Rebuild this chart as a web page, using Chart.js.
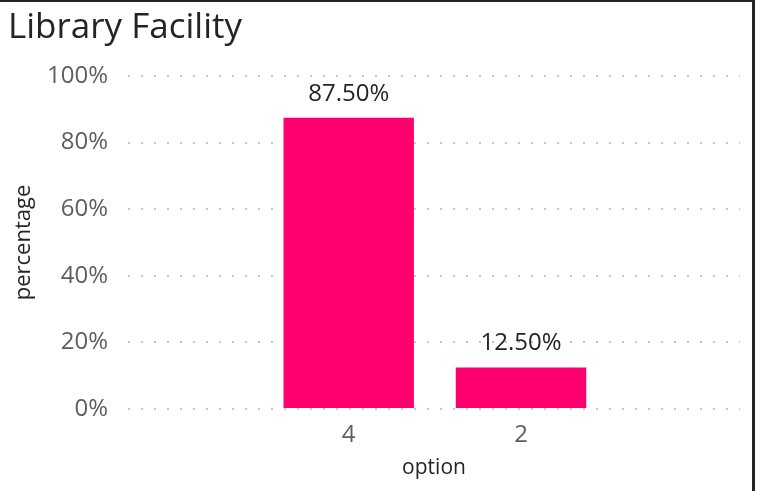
<!DOCTYPE html>
<html>
<head>
<meta charset="utf-8">
<script src="https://cdn.jsdelivr.net/npm/chart.js@4"></script>
<style>
  body { margin: 0; background: #fff; }
  .card { width: 752px; height: 489px; border-top: 2px solid #252423; border-right: 3px solid #252423; }
</style>
</head>
<body>
<div class="card"><canvas id="library-chart" width="752" height="489"></canvas></div>
<script>
const categories = ['4', '2'];
const percentages = [87.5, 12.5];
const yTicks = [0, 20, 40, 60, 80, 100];

const ctxEl = document.getElementById('library-chart');

// value labels above each bar
const barLabels = {
  id: 'barLabels',
  afterDatasetsDraw(chart) {
    const ctx = chart.ctx;
    const meta = chart.getDatasetMeta(0);
    ctx.save();
    ctx.font = '24px "Open Sans"';
    ctx.fillStyle = '#252423';
    ctx.textAlign = 'center';
    ctx.textBaseline = 'alphabetic';
    meta.data.forEach((bar, i) => {
      ctx.fillText(percentages[i].toFixed(2) + '%', bar.x, bar.y - 17);
    });
    ctx.restore();
  }
};

new Chart(ctxEl, {
  type: 'bar',
  data: {
    datasets: [{
      data: categories.map((c, i) => ({ x: i, y: percentages[i] })),
      backgroundColor: 'rgb(255, 0, 110)',
      categoryPercentage: 1,
      barPercentage: 0.757
    }]
  },
  options: {
    responsive: false,
    animation: false,
    layout: { padding: { left: 8, right: 12 } },
    plugins: {
      legend: { display: false },
      tooltip: { enabled: false },
      title: {
        display: true,
        text: 'Library Facility',
        align: 'start',
        color: '#252423',
        font: { family: 'Open Sans', size: 35, weight: 'normal' },
        padding: { top: 5, bottom: 27 }
      }
    },
    scales: {
      x: {
        type: 'linear',
        min: -1.281,
        max: 2.271,
        offset: false,
        afterBuildTicks: s => { s.ticks = categories.map((c, i) => ({ value: i })); },
        afterFit: s => { s.height = 82; },
        grid: { display: false, drawTicks: false },
        border: { display: false },
        ticks: {
          padding: 12,
          color: '#605E5C',
          font: { family: 'Open Sans', size: 24 },
          callback: v => categories[v]
        },
        title: {
          display: true,
          text: 'option',
          color: '#252423',
          font: { family: 'Open Sans', size: 21 },
          padding: { bottom: 10 }
        }
      },
      y: {
        min: yTicks[0],
        max: yTicks[yTicks.length - 1],
        afterBuildTicks: s => { s.ticks = yTicks.map(v => ({ value: v })); },
        afterFit: s => { s.width = 120; },
        grid: { color: '#c8c8c8', lineWidth: 2, drawTicks: false },
        border: { display: false, dash: [2, 11] },
        ticks: {
          padding: 20,
          color: '#605E5C',
          font: { family: 'Open Sans', size: 24 },
          callback: v => v + '%'
        },
        title: {
          display: true,
          text: 'percentage',
          color: '#252423',
          font: { family: 'Open Sans', size: 22 },
          padding: { top: 3 }
        }
      }
    }
  },
  plugins: [barLabels]
});
</script>
</body>
</html>
